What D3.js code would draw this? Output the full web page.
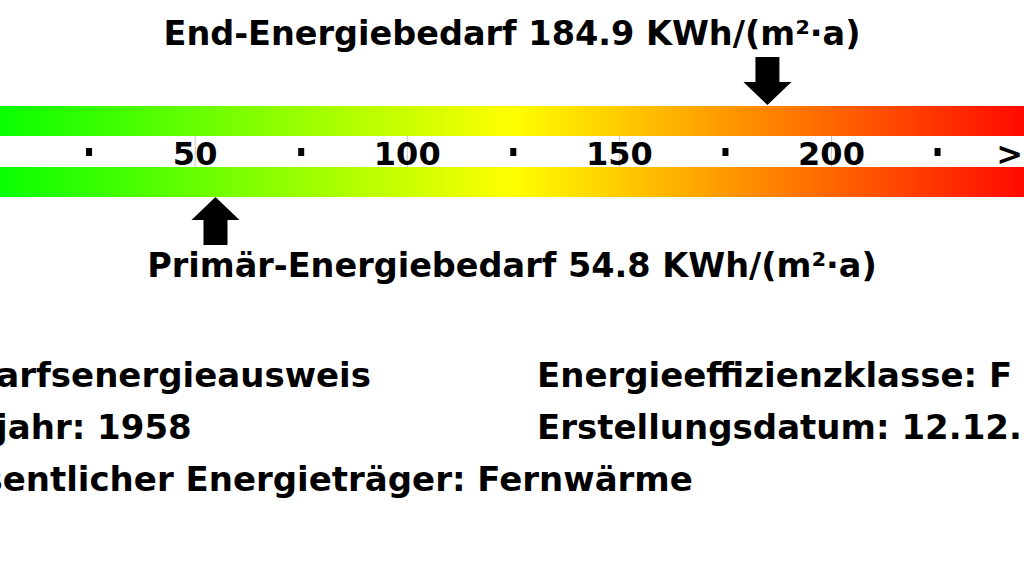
<!DOCTYPE html>
<html>
<head>
<meta charset="utf-8">
<script src="https://cdn.jsdelivr.net/npm/d3@7"></script>
<style>
  html, body { margin: 0; padding: 0; background: #fff; overflow: hidden; }
  text { font-family: "DejaVu Sans", sans-serif; font-weight: bold; fill: #000; }
</style>
</head>
<body>
<script>
// Energy scale data

var domainMax = 250;
var gradientValues = [0, 125, 250];
var gradientColors = ['#00ff00', '#ffff00', '#ff0000'];

var majorTicks = [50, 100, 150, 200];
var minorTicks = [25, 75, 125, 175, 225];
var overflowTick = [{ value: 242, label: '>' }];

var endEnergy = 184.9;
var primaryEnergy = 54.8;
var endLabel = 'End-Energiebedarf 184.9 KWh/(m²·a)';
var primaryLabel = 'Primär-Energiebedarf 54.8 KWh/(m²·a)';

var infoLeft = ['Bedarfsenergieausweis', 'Baujahr: 1958', 'Wesentlicher Energieträger: Fernwärme'];
var infoRight = ['Energieeffizienzklasse: F', 'Erstellungsdatum: 12.12.2013'];


// ===========================================================================
// Drawing

var W = 1024, H = 576;
var fontSize = 33.5;     // titles
var infoFontSize = 34;   // info block
var tickFontSize = 32;   // numbers on the scale

var svg = d3.select('body').append('svg')
    .attr('width', W)
    .attr('height', H);

// value -> pixel
var x = d3.scaleLinear().domain([0, 200]).range([-17, 831.5]);

var barH = 30;
var topBarY = 106;
var bottomBarY = 167;

// Gradient running along the whole value domain
var grad = svg.append('defs').append('linearGradient')
    .attr('id', 'energy')
    .attr('gradientUnits', 'userSpaceOnUse')
    .attr('x1', x(0)).attr('x2', x(domainMax))
    .attr('y1', 0).attr('y2', 0);

grad.selectAll('stop').data(gradientValues).enter()
    .append('stop')
    .attr('offset', function (d) { return d / domainMax; })
    .attr('stop-color', function (d, i) { return gradientColors[i]; });

// The two bars
svg.selectAll('rect.bar').data([topBarY, bottomBarY]).enter()
    .append('rect')
    .attr('class', 'bar')
    .attr('x', x(0))
    .attr('y', function (d) { return d; })
    .attr('width', x(domainMax) - x(0))
    .attr('height', barH)
    .attr('fill', 'url(#energy)');

// Major tick lines between the bars
svg.selectAll('line.tick').data(majorTicks).enter()
    .append('line')
    .attr('class', 'tick')
    .attr('x1', function (d) { return x(d); })
    .attr('x2', function (d) { return x(d); })
    .attr('y1', topBarY + barH)
    .attr('y2', bottomBarY)
    .attr('stroke', '#c4c4c4')
    .attr('stroke-width', 1);

// Major tick labels
svg.selectAll('text.major').data(majorTicks).enter()
    .append('text')
    .attr('class', 'major')
    .attr('x', function (d) { return x(d); })
    .attr('y', 165)
    .attr('text-anchor', 'middle')
    .style('font-size', tickFontSize + 'px')
    .text(function (d) { return d; });

// Minor ticks are small squares
svg.selectAll('rect.minor').data(minorTicks).enter()
    .append('rect')
    .attr('class', 'minor')
    .attr('x', function (d) { return x(d) - 3; })
    .attr('y', 148)
    .attr('width', 6)
    .attr('height', 8)
    .attr('fill', '#000');

svg.selectAll('text.over').data(overflowTick).enter()
    .append('text')
    .attr('class', 'over')
    .attr('x', function (d) { return x(d.value); })
    .attr('y', 165)
    .attr('text-anchor', 'middle')
    .style('font-size', tickFontSize + 'px')
    .text(function (d) { return d.label; });

// Arrows: shaft 24 wide, head 48 wide / 23 tall
function arrowPath(cx, tipY, dir) {
    // dir = 1 points down, -1 points up
    var headH = 23, shaftH = 25, hw = 24, sw = 12;
    var baseY = tipY - dir * headH;
    var endY = baseY - dir * shaftH;
    return 'M' + cx + ',' + tipY +
        'L' + (cx - hw) + ',' + baseY +
        'L' + (cx - sw) + ',' + baseY +
        'L' + (cx - sw) + ',' + endY +
        'L' + (cx + sw) + ',' + endY +
        'L' + (cx + sw) + ',' + baseY +
        'L' + (cx + hw) + ',' + baseY + 'Z';
}

svg.append('path')
    .attr('d', arrowPath(x(endEnergy), topBarY - 1, 1))
    .attr('fill', '#000');

svg.append('path')
    .attr('d', arrowPath(x(primaryEnergy), bottomBarY + barH, -1))
    .attr('fill', '#000');

// Titles
svg.append('text')
    .attr('x', W / 2)
    .attr('y', 45)
    .attr('text-anchor', 'middle')
    .style('font-size', fontSize + 'px')
    .text(endLabel);

svg.append('text')
    .attr('x', W / 2)
    .attr('y', 277)
    .attr('text-anchor', 'middle')
    .style('font-size', fontSize + 'px')
    .text(primaryLabel);

// Info block
var left = svg.selectAll('text.infoL').data(infoLeft).enter()
    .append('text')
    .attr('class', 'infoL')
    .attr('y', function (d, i) { return 387 + i * 52; })
    .style('font-size', infoFontSize + 'px')
    .text(function (d) { return d; });

// left column is cut off at the window edge; align the first line's end
var firstLen = left.node().getComputedTextLength();
left.attr('x', 371 - firstLen);

svg.selectAll('text.infoR').data(infoRight).enter()
    .append('text')
    .attr('class', 'infoR')
    .attr('x', 537)
    .attr('y', function (d, i) { return 387 + i * 52; })
    .style('font-size', infoFontSize + 'px')
    .text(function (d) { return d; });
</script>
</body>
</html>
